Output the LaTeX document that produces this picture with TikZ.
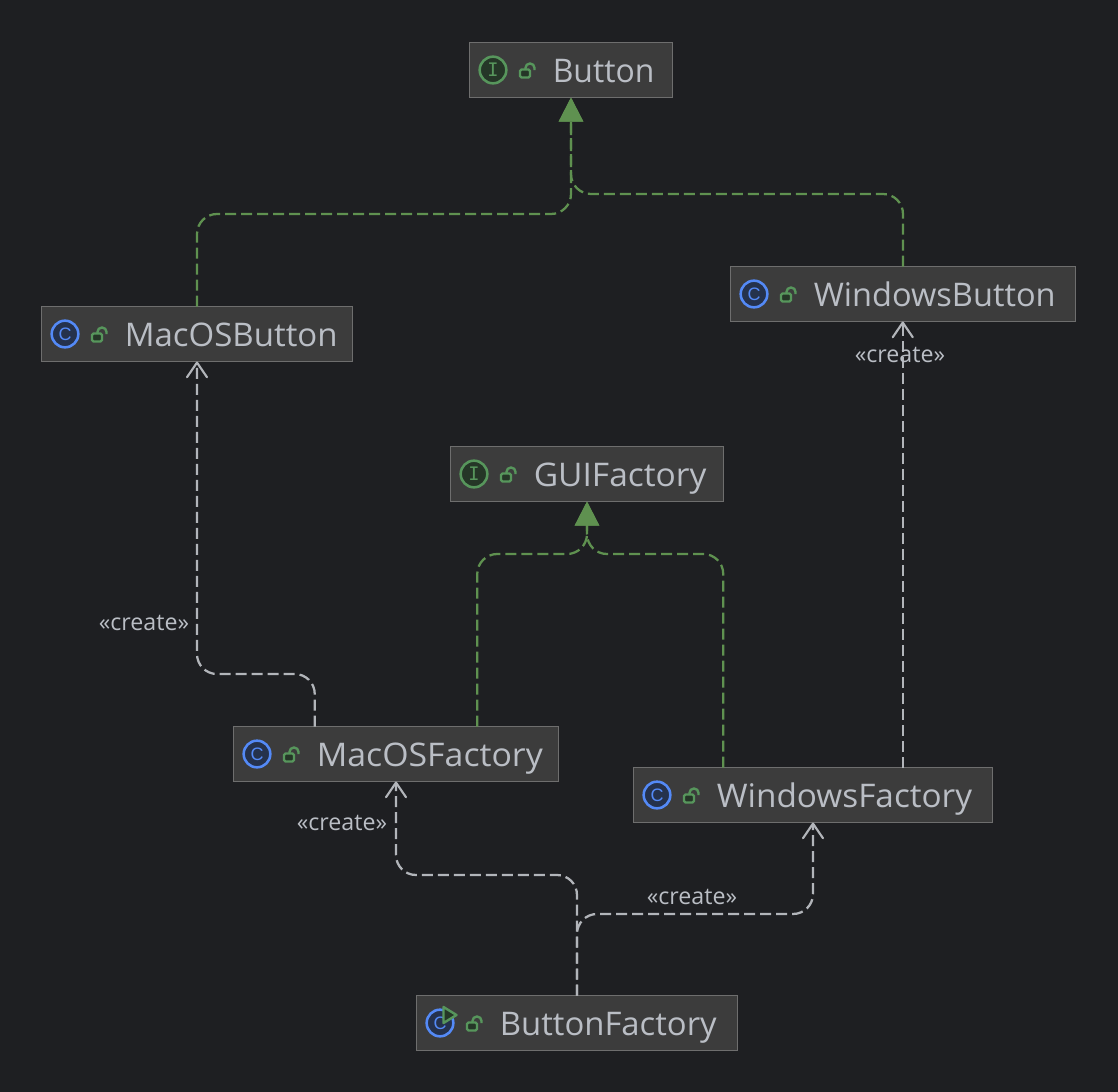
\documentclass[tikz,border=0pt]{standalone}
\usepackage{fontspec}
\usepackage{graphicx}
\setmainfont{Open Sans}
\newfontfamily\iconfont{DejaVu Sans Mono}
\newfontfamily\iconsans{Liberation Sans}
\usetikzlibrary{arrows.meta,calc}
\definecolor{bgc}{HTML}{1E1F22}
\definecolor{boxfill}{HTML}{3C3C3C}
\definecolor{boxline}{HTML}{6E6E6E}
\definecolor{txt}{HTML}{BABEC5}
\definecolor{greenl}{HTML}{5F9150}
\definecolor{greyl}{HTML}{B2B5BA}
\definecolor{ifill}{HTML}{253627}
\definecolor{iline}{HTML}{57965C}
\definecolor{cfill}{HTML}{25324D}
\definecolor{cline}{HTML}{548AF7}
\tikzset{
  x=0.75pt,y=-0.75pt,
  classbox/.style={draw=boxline,fill=boxfill,line width=1.1pt,inner sep=0pt,outer sep=0pt,
    minimum height=41.25pt,text=txt,anchor=north west,font=\fontsize{24.4}{28}\selectfont},
  implarrow/.style={draw=greenl,line width=1.7pt,dash pattern=on 8.25pt off 3.75pt,rounded corners=15pt,
    -{Triangle[length=18pt,width=18pt,fill=greenl]}},
  createarrow/.style={draw=greyl,line width=1.7pt,dash pattern=on 8.25pt off 3.75pt,rounded corners=15pt,
    -{Straight Barb[length=11pt,width=15pt,line width=1.6pt,round]}},
  createlabel/.style={text=txt,inner sep=0pt,font=\fontsize{17.4}{20}\selectfont},
  iconI/.style={circle,draw=iline,fill=ifill,line width=1.9pt,minimum size=20pt,inner sep=0pt,text=iline,
    font=\iconfont\fontsize{14}{14}\selectfont},
  iconC/.style={circle,draw=cline,fill=cfill,line width=1.9pt,minimum size=20pt,inner sep=0pt,text=cline,
    font=\iconsans\fontsize{13.5}{14}\selectfont},
  lockpart/.style={draw=iline,line width=1.8pt},
}
% name, x, y, width, horizontal text scale, text
\newcommand{\classnode}[6]{%
  \node[classbox] (#1) at (#2.5,#3.5) {\makebox[\dimexpr 0.75pt*#4\relax][l]{\hspace{62.5pt}\raisebox{-9.4pt}[0pt][0pt]{\scalebox{#5}[1]{#6}}}};}
\newcommand{\lockicon}[1]{%
  \begin{scope}[shift={(#1.west)}]
    \draw[lockpart,fill=ifill,rounded corners=1.1pt] (50.5,-0.5) rectangle (60.5,7.5);
    \draw[lockpart,rounded corners=3.3pt] (56,-0.5) -- (56,-6.5) -- (65,-6.5) -- (65,0);
  \end{scope}}
\newcommand{\itfc}[1]{\node[iconI] (#1I) at ($(#1.west)+(23.5,0)$) {I};\lockicon{#1}}
\newcommand{\clss}[1]{\node[iconC] (#1C) at ($(#1.west)+(23.5,0)$) {C};\lockicon{#1}}
\begin{document}
\begin{tikzpicture}
\fill[bgc] (0,0) rectangle (1118,1092);
\useasboundingbox (0,0) rectangle (1118,1092);

\classnode{btn}{469}{42}{203}{0.98}{Button}
\classnode{wbtn}{730}{266}{345}{1}{WindowsButton}
\classnode{mbtn}{41}{306}{311}{1.014}{MacOSButton}
\classnode{gui}{450}{446}{273}{1.03}{GUIFactory}
\classnode{mfac}{233}{726}{325}{1.04}{MacOSFactory}
\classnode{wfac}{633}{767}{359}{1.024}{WindowsFactory}
\classnode{bfac}{416}{995}{321}{1.01}{ButtonFactory}

\itfc{btn}\itfc{gui}
\clss{wbtn}\clss{mbtn}\clss{mfac}\clss{wfac}\clss{bfac}
\begin{scope}[shift={(bfac.west)}]
  \draw[lockpart,fill=ifill,line join=round] (27,-16) -- (40,-8) -- (27,0) -- cycle;
\end{scope}

\coordinate (b1) at (btn.south |- 0,214);
\coordinate (b2) at (btn.south |- 0,194);
\coordinate (g1) at (gui.south |- 0,554);
\coordinate (m1) at (mbtn.south |- 0,674);
\coordinate (bf1) at (mfac.south |- 0,875);
\coordinate (bf2) at (wfac.south |- 0,914);
\coordinate (mfL) at ($(mfac.north west)!0.25!(mfac.north east)$);
\coordinate (mfR) at ($(mfac.north west)!0.75!(mfac.north east)$);
\coordinate (wfL) at ($(wfac.north west)!0.25!(wfac.north east)$);
\coordinate (wfR) at ($(wfac.north west)!0.75!(wfac.north east)$);

\draw[implarrow] (mbtn.north) |- (b1) -- (btn.south);
\draw[implarrow] (wbtn.north) |- (b2) -- (btn.south);
\draw[implarrow] (mfR) |- (g1) -- (gui.south);
\draw[implarrow] (wfL) |- (g1) -- (gui.south);
\draw[createarrow] (mfL) |- (m1) -- (mbtn.south);
\draw[createarrow] (wfR) -- (wfR |- wbtn.south);
\draw[createarrow] (bfac.north) |- (bf1) -- (mfac.south);
\draw[createarrow] (bfac.north) |- (bf2) -- (wfac.south);

\node[createlabel] (l1) at (144,622.5) {«create»};
\node[createlabel] (l2) at (900,354.5) {«create»};
\node[createlabel] (l3) at (342,822.5) {«create»};
\node[createlabel] (l4) at (692,896.5) {«create»};
\end{tikzpicture}
\end{document}
